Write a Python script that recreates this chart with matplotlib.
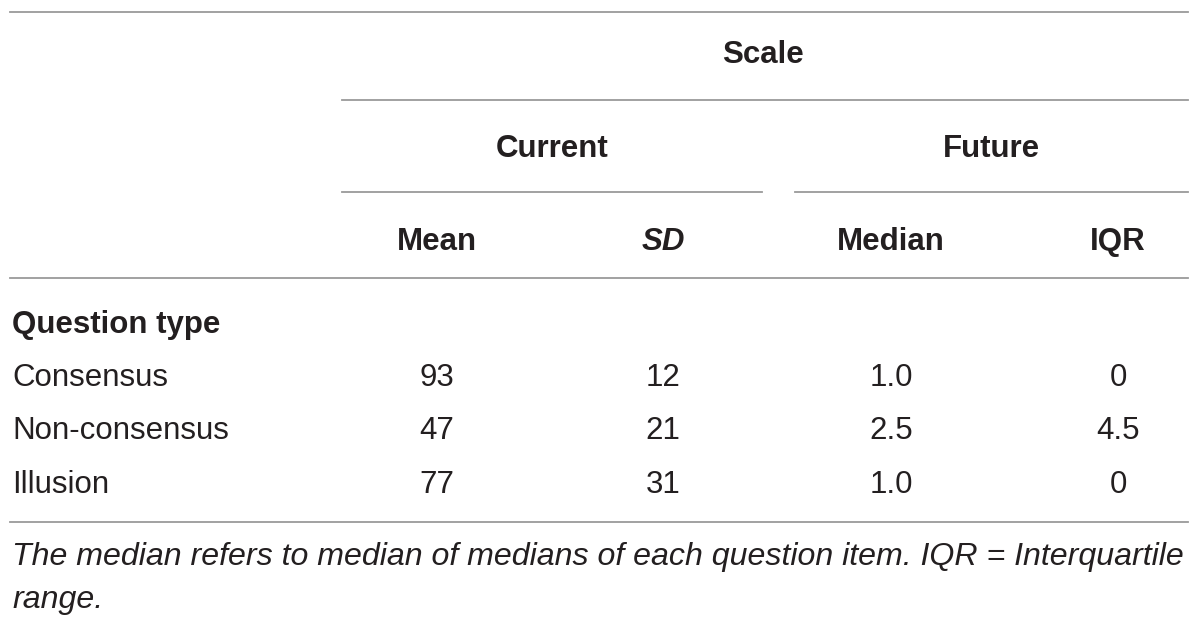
import matplotlib.pyplot as plt

# table content
row_labels = ['Consensus', 'Non-consensus', 'Illusion']
mean_vals = ['93', '47', '77']
sd_vals = ['12', '21', '31']
median_vals = ['1.0', '2.5', '1.0']
iqr_vals = ['0', '4.5', '0']
col_labels = ['Mean', 'SD', 'Median', 'IQR']
group_labels = ['Current', 'Future']
top_label = 'Scale'
row_header = 'Question type'
note_lines = ['The median refers to median of medians of each question item. IQR = Interquartile',
              'range.']

plt.rcParams['font.family'] = ['Liberation Sans', 'DejaVu Sans']
text_col = '#231f20'
line_col = '#9a9a9a'

fig = plt.figure(figsize=(12, 6.28), dpi=100)
ax = fig.add_axes([0, 0, 1, 1])
ax.set_xlim(0, 1200)
ax.set_ylim(628, 0)
ax.axis('off')

col_x = [437, 663, 891, 1118]
group_x = [552, 991]
row_y = [386, 439, 493]
fs = 22.5

# rules
ax.plot([10, 1188], [12, 12], color=line_col, lw=1.3)
ax.plot([342, 1188], [100, 100], color=line_col, lw=1.3)
ax.plot([342, 762], [192, 192], color=line_col, lw=1.3)
ax.plot([795, 1188], [192, 192], color=line_col, lw=1.3)
ax.plot([10, 1188], [278, 278], color=line_col, lw=1.3)
ax.plot([10, 1188], [522, 522], color=line_col, lw=1.3)

# headers
ax.text(763, 63, top_label, ha='center', va='baseline', fontsize=fs, fontweight='bold', color=text_col)
for gx, g in zip(group_x, group_labels):
    ax.text(gx, 157, g, ha='center', va='baseline', fontsize=fs, fontweight='bold', color=text_col)
for cx, c in zip(col_x, col_labels):
    style = 'italic' if c == 'SD' else 'normal'
    ax.text(cx, 250, c, ha='center', va='baseline', fontsize=fs, fontweight='bold',
            fontstyle=style, color=text_col)
ax.text(12, 333, row_header, ha='left', va='baseline', fontsize=fs, fontweight='bold', color=text_col)

# body
for i, lab in enumerate(row_labels):
    y = row_y[i]
    ax.text(12, y, lab, ha='left', va='baseline', fontsize=fs, color=text_col)
    for cx, vals in zip(col_x, [mean_vals, sd_vals, median_vals, iqr_vals]):
        ax.text(cx, y, vals[i], ha='center', va='baseline', fontsize=fs, color=text_col)

# footnote
for ny, line in zip([565, 608], note_lines):
    ax.text(12, ny, line, ha='left', va='baseline', fontsize=23.1, fontstyle='italic',
            color=text_col)

fig.savefig('out.png', dpi=100)
